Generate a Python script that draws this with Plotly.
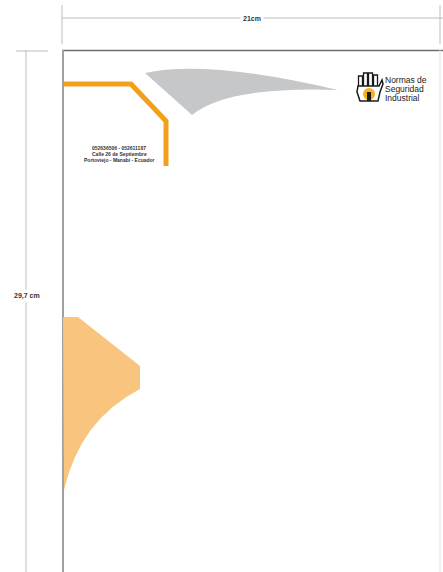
import plotly.graph_objects as go

W, H = 443, 572

# ---- content values ----
dim_width_label = "21cm"
dim_height_label = "29,7 cm"
address_lines = ["052636506 - 052611187", "Calle 26 de Septiembre", "Portoviejo - Manabí - Ecuador"]
logo_lines = ["Normas de", "Seguridad", "Industrial"]

# outline points (page pixel coordinates)
orange_line_x = [62, 131, 166, 166]
orange_line_y = [84, 84, 121, 166]
bottom_shape_x = [63, 78, 140, 140]
bottom_shape_y = [317, 317, 366, 389]

fig = go.Figure()

# orange bracket line
fig.add_trace(go.Scatter(x=orange_line_x, y=orange_line_y, mode="lines",
                         line=dict(color="#F29F1A", width=5), hoverinfo="skip"))

shapes = []
# dimension lines
dim = dict(color="#BDBDBD", width=1)
shapes.append(dict(type="line", x0=62, x1=443, y0=18, y1=18, line=dim))
shapes.append(dict(type="line", x0=62, x1=62, y0=5, y1=44, line=dim))
shapes.append(dict(type="line", x0=440, x1=440, y0=5, y1=44, line=dim))
shapes.append(dict(type="line", x0=26, x1=26, y0=50, y1=572, line=dim))
shapes.append(dict(type="line", x0=16, x1=48, y0=51, y1=51, line=dim))
# page border
shapes.append(dict(type="line", x0=62, x1=443, y0=50.5, y1=50.5, line=dict(color="#6E6E6E", width=1.5)))
shapes.append(dict(type="line", x0=63, x1=63, y0=50, y1=572, line=dict(color="#A0A0A0", width=2)))
shapes.append(dict(type="line", x0=440, x1=440, y0=50, y1=572, line=dict(color="#E2E2E2", width=1)))

# gray blade
shapes.append(dict(type="path",
                   path="M 145,73 Q 205,59 338,90 Q 228,86 192,115 Z",
                   fillcolor="#C6C7C9", line=dict(width=0)))

# bottom light-orange shape
p = "M %d,%d L %d,%d L %d,%d L %d,%d Q 80,420 64,490 L 63,317 Z" % (
    bottom_shape_x[0], bottom_shape_y[0], bottom_shape_x[1], bottom_shape_y[1],
    bottom_shape_x[2], bottom_shape_y[2], bottom_shape_x[3], bottom_shape_y[3])
shapes.append(dict(type="path", path=p, fillcolor="#F9C47E", line=dict(width=0)))

# logo hand (simplified)
blk = "#1A1A1A"
for fx, top in [(358.5, 76), (363.5, 73), (368.5, 73), (373.5, 75)]:
    shapes.append(dict(type="rect", x0=fx, x1=fx + 4, y0=top, y1=88,
                       fillcolor="white", line=dict(color=blk, width=1.3)))
shapes.append(dict(type="path", path="M 358,86 L 379,86 L 382,80 L 383,84 L 380,92 L 378,101 L 360,101 L 357,92 Z",
                   fillcolor="white", line=dict(color=blk, width=1.5)))
shapes.append(dict(type="circle", x0=363, x1=375, y0=88, y1=100, fillcolor="#F5B21B", line=dict(width=0)))
shapes.append(dict(type="rect", x0=367, x1=371, y0=92, y1=101, fillcolor=blk, line=dict(width=0)))

annotations = [
    dict(x=252, y=18, text="<b>%s</b>" % dim_width_label, showarrow=False, bgcolor="white",
         font=dict(size=7, color="#333333", family="Liberation Sans Narrow, Arial Narrow, sans-serif"),
         borderpad=2),
    dict(x=27, y=296, text="<b>%s</b>" % dim_height_label, showarrow=False, bgcolor="white",
         font=dict(size=7, color="#333333", family="Liberation Sans Narrow, Arial Narrow, sans-serif"),
         borderpad=2),
]
for i, t in enumerate(address_lines):
    annotations.append(dict(x=119, y=148 + 6 * i, text="<b>%s</b>" % t, showarrow=False,
                            font=dict(size=5, color="#333333",
                                      family="Liberation Sans Narrow, Arial Narrow, sans-serif")))
for i, t in enumerate(logo_lines):
    annotations.append(dict(x=383, y=80 + 9 * i, text=t, showarrow=False, xanchor="left",
                            font=dict(size=8.5, color="#1A1A1A",
                                      family="Liberation Sans Narrow, Arial Narrow, sans-serif")))

fig.update_layout(
    width=W, height=H, margin=dict(l=0, r=0, t=0, b=0),
    paper_bgcolor="white", plot_bgcolor="white", showlegend=False,
    xaxis=dict(range=[0, W], visible=False, fixedrange=True),
    yaxis=dict(range=[H, 0], visible=False, fixedrange=True),
    shapes=shapes, annotations=annotations,
)

fig.write_html("out.html", config={"displayModeBar": False},
               post_script="document.body.style.margin='0';document.body.style.overflow='hidden';")
